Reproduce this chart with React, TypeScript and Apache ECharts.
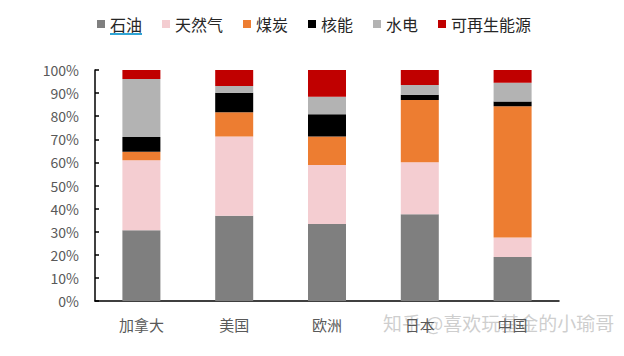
import React, { useEffect, useRef } from "react";
import * as echarts from "echarts";

const categories = ["加拿大", "美国", "欧洲", "日本", "中国"];
const seriesNames = ["石油", "天然气", "煤炭", "核能", "水电", "可再生能源"];
const oil = [30.6, 36.9, 33.3, 37.6, 19.1];
const gas = [30.3, 34.3, 25.6, 22.5, 8.4];
const coal = [3.7, 10.5, 12.3, 26.9, 56.8];
const nuclear = [6.4, 8.5, 9.6, 2.3, 2.1];
const hydro = [25.1, 2.9, 7.6, 4.2, 8.1];
const renewable = [3.9, 6.9, 11.6, 6.5, 5.5];
const colors = ["#7f7f7f", "#f4cdd1", "#ed7d31", "#000000", "#b3b3b3", "#c00000"];
const FONT = "'Noto Sans CJK SC', 'Microsoft YaHei', sans-serif";

export default function App() {
  const ref = useRef<HTMLDivElement>(null);
  useEffect(() => {
    if (!ref.current) return;
    const chart = echarts.init(ref.current, undefined, { renderer: "svg" });
    const data = [oil, gas, coal, nuclear, hydro, renewable];
    chart.setOption({
      animation: false,
      color: colors,
      legend: {
        data: seriesNames,
        left: 92,
        top: 11,
        itemWidth: 8,
        itemHeight: 8,
        itemGap: 20,
        icon: "rect",
        textStyle: { fontSize: 16, color: "#262626", fontFamily: FONT },
      },
      grid: { left: 95, right: 65, top: 70, bottom: 55 },
      xAxis: {
        type: "category",
        data: categories,
        axisLine: { lineStyle: { color: "#000", width: 1.5 } },
        axisTick: { inside: true, length: 5, lineStyle: { color: "#000", width: 1.5 } },
        axisLabel: { fontSize: 15, color: "#595959", fontFamily: FONT, margin: 16 },
      },
      yAxis: {
        type: "value",
        min: 0,
        max: 100,
        interval: 10,
        splitLine: { show: false },
        axisLine: { show: true, lineStyle: { color: "#000", width: 1.5 } },
        axisTick: { show: true, inside: true, length: 4, lineStyle: { color: "#000", width: 1.5 } },
        axisLabel: { formatter: "{value}%", fontSize: 14, color: "#595959", fontFamily: FONT, margin: 16 },
      },
      series: seriesNames.map((name, i) => ({
        name,
        type: "bar",
        stack: "total",
        barWidth: 38,
        data: data[i],
        itemStyle: { color: colors[i] },
      })),
      graphic: [
        {
          type: "line",
          shape: { x1: 110, y1: 34, x2: 142, y2: 34 },
          style: { stroke: "#2fa4d4", lineWidth: 2 },
        },
        {
          type: "text",
          left: 383,
          top: 313,
          style: {
            text: "知乎 @喜欢玩基金的小瑜哥",
            fontSize: 19,
            fontFamily: FONT,
            fill: "rgba(190,190,190,0.75)",
          },
        },
      ],
    });
    return () => chart.dispose();
  }, []);
  return <div ref={ref} style={{ width: 624, height: 356, position: "absolute", left: 0, top: 0 }} />;
}
